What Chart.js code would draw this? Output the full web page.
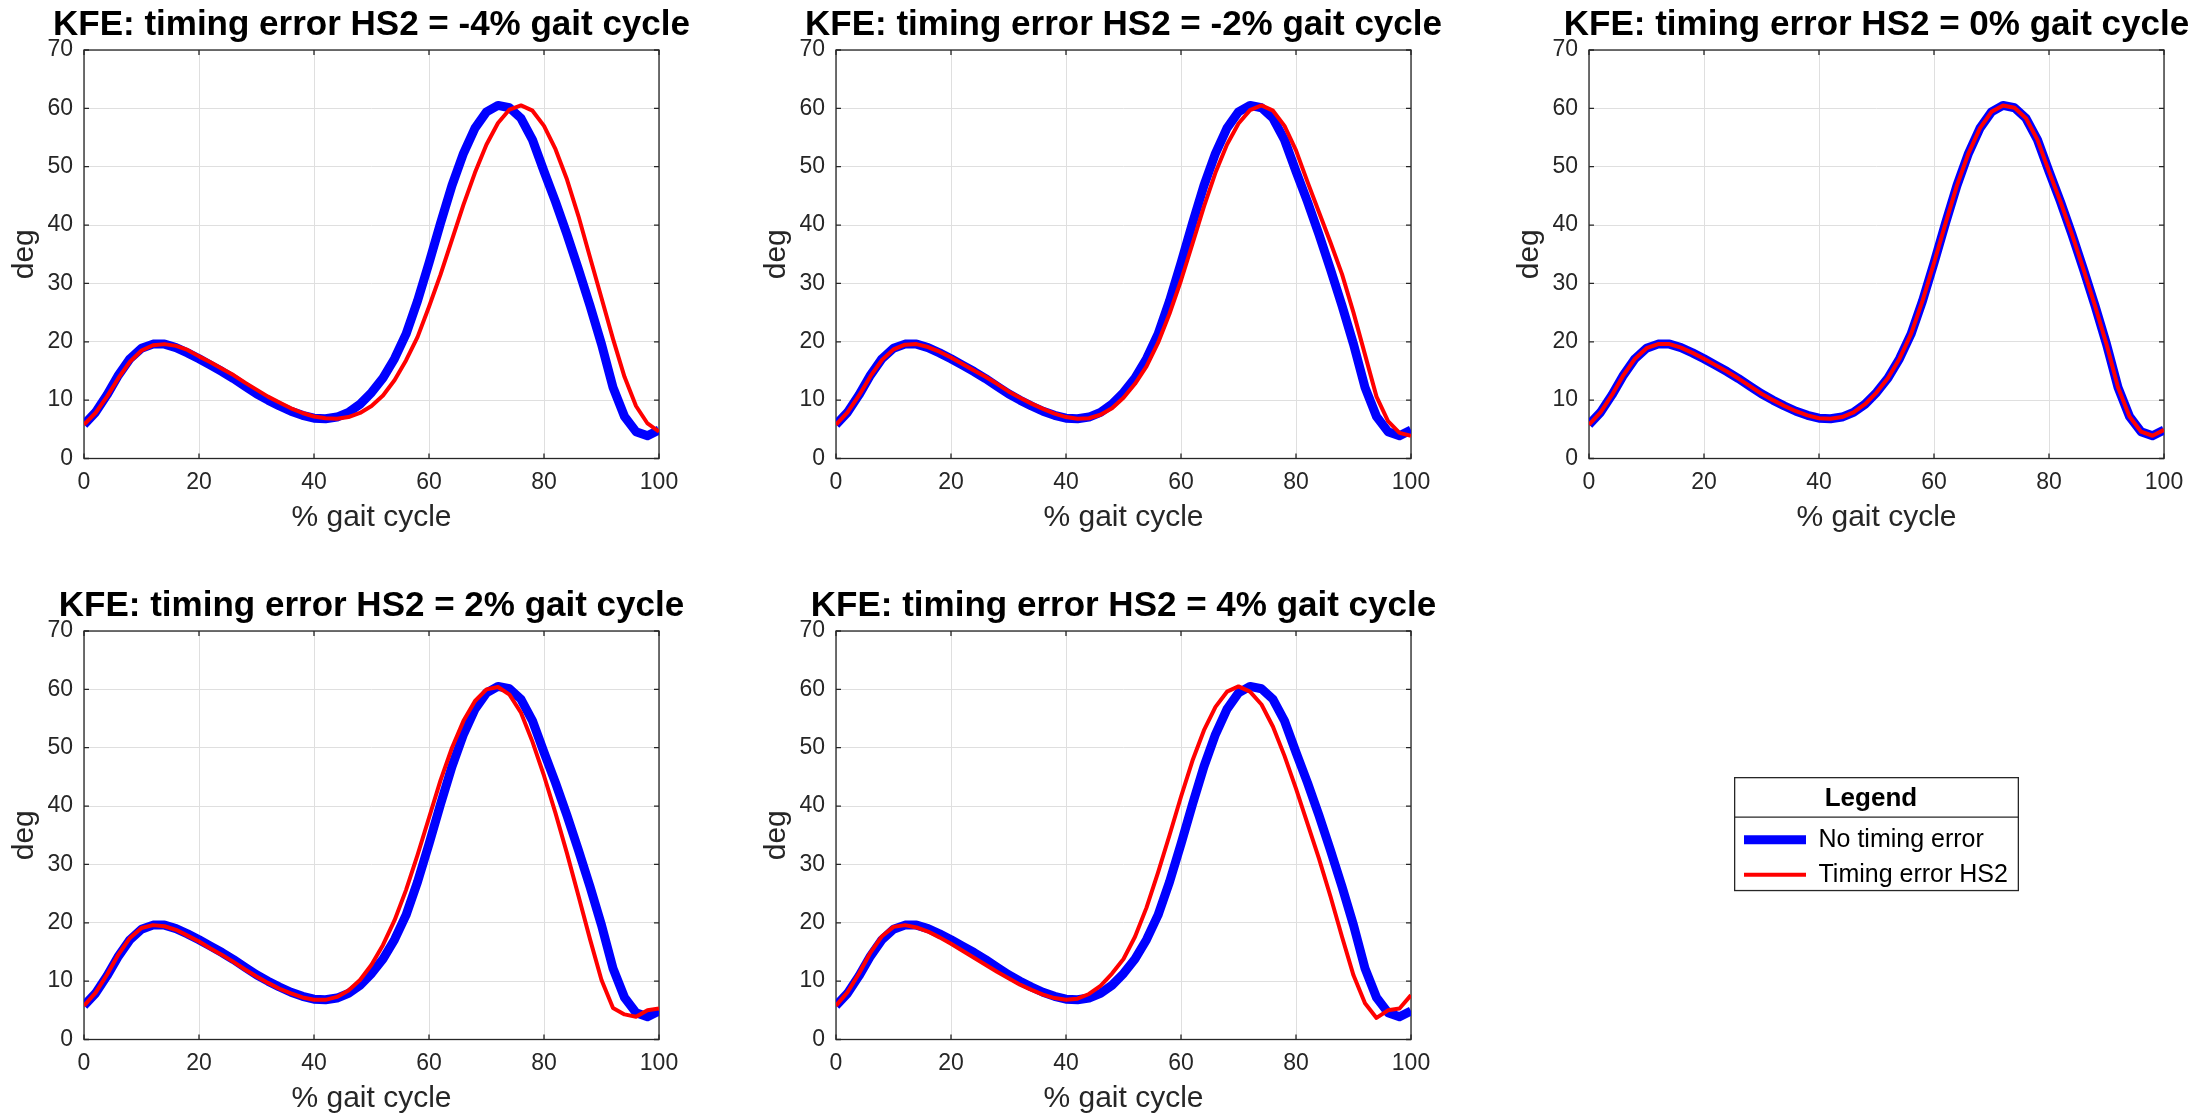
<!DOCTYPE html>
<html>
<head>
<meta charset="utf-8">
<title>KFE: timing error HS2</title>
<script src="https://cdn.jsdelivr.net/npm/chart.js@4.4.1/dist/chart.umd.min.js"></script>
<style>
    html, body { margin: 0; padding: 0; background: #fff; overflow: hidden; }
    #figure { position: relative; width: 2197px; height: 1118px; overflow: hidden; }
    #figure canvas { position: absolute; }
</style>
</head>
<body>
<div id="figure">
    <canvas id="kfe_m4" width="743" height="537" style="left:0px;top:0px"></canvas>
    <canvas id="kfe_m2" width="743" height="537" style="left:752px;top:0px"></canvas>
    <canvas id="kfe_0" width="743" height="537" style="left:1505px;top:0px"></canvas>
    <canvas id="kfe_p2" width="743" height="537" style="left:0px;top:581px"></canvas>
    <canvas id="kfe_p4" width="743" height="537" style="left:752px;top:581px"></canvas>
    <canvas id="kfe_legend" width="285" height="250" style="left:1734px;top:777px"></canvas>
</div>
<script>
// Knee flexion/extension angle (deg), sampled every 2% of the gait cycle
var gaitCycle = [0, 2, 4, 6, 8, 10, 12, 14, 16, 18, 20, 22, 24, 26, 28, 30, 32, 34, 36, 38, 40,
    42, 44, 46, 48, 50, 52, 54, 56, 58, 60, 62, 64, 66, 68, 70, 72, 74, 76, 78, 80,
    82, 84, 86, 88, 90, 92, 94, 96, 98, 100];

var kfeNoError = [5.8, 7.9, 10.9, 14.3, 17.1, 18.9, 19.6, 19.6, 19.0, 18.1, 17.1,
    16.0, 14.9, 13.7, 12.4, 11.1, 10.0, 9.0, 8.1, 7.4, 6.9,
    6.8, 7.1, 7.9, 9.3, 11.3, 13.8, 17.1, 21.3, 27.0, 33.5,
    40.3, 46.8, 52.3, 56.6, 59.4, 60.5, 60.1, 58.3, 54.6, 49.2,
    44.0, 38.4, 32.4, 26.2, 19.6, 12.2, 7.2, 4.6, 3.9, 4.9];

var kfeErrM4 = [5.8, 7.8, 10.6, 13.8, 16.6, 18.5, 19.4, 19.6, 19.3, 18.6, 17.5,
    16.5, 15.4, 14.3, 13.0, 11.8, 10.6, 9.6, 8.6, 7.8, 7.2,
    6.9, 6.8, 7.1, 7.8, 9.0, 10.8, 13.4, 16.8, 20.8, 26.0,
    31.5, 37.5, 43.5, 49.0, 53.8, 57.5, 59.8, 60.5, 59.6, 57.0,
    53.0, 47.8, 41.5, 34.5, 27.5, 20.5, 14.0, 9.0, 6.0, 4.6];

var kfeErrM2 = [5.8, 7.9, 10.8, 14.1, 16.9, 18.7, 19.5, 19.6, 19.1, 18.3, 17.3,
    16.2, 15.1, 14.0, 12.8, 11.5, 10.4, 9.4, 8.5, 7.7, 7.1,
    6.8, 6.9, 7.5, 8.6, 10.4, 12.8, 15.8, 19.8, 24.8, 30.5,
    36.8, 43.2, 49.0, 53.8, 57.4, 59.7, 60.5, 59.6, 57.0, 52.8,
    47.4, 42.2, 37.0, 31.6, 25.0, 17.8, 10.6, 6.4, 4.4, 3.9];

var kfeErr0 = [5.8, 7.9, 10.9, 14.3, 17.1, 18.9, 19.6, 19.6, 19.0, 18.1, 17.1,
    16.0, 14.9, 13.7, 12.4, 11.1, 10.0, 9.0, 8.1, 7.4, 6.9,
    6.8, 7.1, 7.9, 9.3, 11.3, 13.8, 17.1, 21.3, 27.0, 33.5,
    40.3, 46.8, 52.3, 56.6, 59.4, 60.5, 60.1, 58.3, 54.6, 49.2,
    44.0, 38.4, 32.4, 26.2, 19.6, 12.2, 7.2, 4.6, 3.9, 4.9];

var kfeErrP2 = [5.8, 8.0, 11.1, 14.6, 17.4, 19.1, 19.6, 19.4, 18.8, 17.8, 16.8,
    15.6, 14.5, 13.3, 12.0, 10.8, 9.7, 8.7, 7.9, 7.2, 6.8,
    6.8, 7.3, 8.4, 10.2, 12.8, 16.2, 20.4, 25.6, 31.6, 38.0,
    44.4, 50.0, 54.6, 58.0, 60.0, 60.4, 59.1, 56.0, 51.0, 45.2,
    38.8, 31.9, 24.6, 17.2, 10.2, 5.4, 4.3, 3.9, 5.0, 5.3];

var kfeErrP4 = [5.8, 8.1, 11.3, 14.9, 17.7, 19.3, 19.6, 19.2, 18.5, 17.5, 16.4,
    15.2, 14.0, 12.8, 11.6, 10.5, 9.4, 8.5, 7.7, 7.1, 6.8,
    7.0, 7.8, 9.2, 11.3, 13.8, 17.6, 22.6, 28.6, 35.0, 41.6,
    47.8, 53.0, 57.0, 59.6, 60.5, 59.6, 57.4, 53.6, 48.6, 43.0,
    37.0, 31.0, 24.5, 17.6, 11.0, 6.2, 3.7, 5.0, 5.3, 7.6];

var xTicks = [0, 20, 40, 60, 80, 100];
var yTicks = [0, 10, 20, 30, 40, 50, 60, 70];

var panelTitles = [
    'KFE: timing error HS2 = -4% gait cycle',
    'KFE: timing error HS2 = -2% gait cycle',
    'KFE: timing error HS2 = 0% gait cycle',
    'KFE: timing error HS2 = 2% gait cycle',
    'KFE: timing error HS2 = 4% gait cycle'
];
var legendLabels = ['No timing error', 'Timing error HS2'];

(function () {
    var FONT = "'Liberation Sans', Arial, Helvetica, sans-serif";
    var AXIS_COLOR = '#262626';
    var GRID_COLOR = '#dfdfdf';
    var BLUE = '#0000ff';
    var RED = '#ff0000';
    var TICK_LEN = 5;
    // width of the y axis; an empty axis of the same width on the right keeps the title centred over the plot
    var SIDE = 84;

    /**
     * Box round the plot area plus the inward tick marks on all four sides
     */
    var axesFrame = {
        id: 'axesFrame',
        beforeDatasetsDraw: function (chart) {
            var ctx = chart.ctx;
            var a = chart.chartArea;
            var xs = chart.scales.x;
            var ys = chart.scales.y;
            ctx.save();
            ctx.strokeStyle = AXIS_COLOR;
            ctx.lineWidth = 1.3;
            ctx.strokeRect(a.left, a.top, a.right - a.left, a.bottom - a.top);
            ctx.beginPath();
            xs.ticks.forEach(function (t) {
                var px = xs.getPixelForValue(t.value);
                ctx.moveTo(px, a.bottom);
                ctx.lineTo(px, a.bottom - TICK_LEN);
                ctx.moveTo(px, a.top);
                ctx.lineTo(px, a.top + TICK_LEN);
            });
            ys.ticks.forEach(function (t) {
                var py = ys.getPixelForValue(t.value);
                ctx.moveTo(a.left, py);
                ctx.lineTo(a.left + TICK_LEN, py);
                ctx.moveTo(a.right, py);
                ctx.lineTo(a.right - TICK_LEN, py);
            });
            ctx.stroke();
            ctx.restore();
        }
    };

    /**
     * Border and title divider of the stand-alone legend
     */
    var legendFrame = {
        id: 'legendFrame',
        afterDraw: function (chart) {
            var ctx = chart.ctx;
            var lg = chart.legend;
            var boxes = lg.legendHitBoxes;
            var last = boxes[boxes.length - 1];
            var bottom = last.top + last.height + 4;
            var divY = lg.top + lg._computeTitleHeight();
            ctx.save();
            ctx.strokeStyle = AXIS_COLOR;
            ctx.lineWidth = 1.3;
            ctx.strokeRect(lg.left + 0.65, lg.top + 0.65, lg.width - 1.3, bottom - lg.top - 1.3);
            ctx.beginPath();
            ctx.moveTo(lg.left, divY);
            ctx.lineTo(lg.right, divY);
            ctx.stroke();
            ctx.restore();
        }
    };

    function toPoints(series) {
        return gaitCycle.map(function (x, i) {
            return { x: x, y: series[i] };
        });
    }

    function fixedTicks(values) {
        return function (scale) {
            scale.ticks = values.map(function (v) { return { value: v }; });
        };
    }

    function makePanel(canvasId, title, errSeries) {
        return new Chart(document.getElementById(canvasId), {
            type: 'line',
            data: {
                datasets: [{
                    label: legendLabels[0],
                    data: toPoints(kfeNoError),
                    borderColor: BLUE,
                    borderWidth: 9,
                    borderJoinStyle: 'round',
                    order: 2
                }, {
                    label: legendLabels[1],
                    data: toPoints(errSeries),
                    borderColor: RED,
                    borderWidth: 4,
                    borderJoinStyle: 'round',
                    order: 1
                }]
            },
            options: {
                responsive: false,
                animation: false,
                events: [],
                layout: { padding: { left: 0, right: 0, top: 0, bottom: 0.5 } },
                elements: { point: { radius: 0 }, line: { tension: 0 } },
                scales: {
                    x: {
                        type: 'linear',
                        min: xTicks[0],
                        max: xTicks[xTicks.length - 1],
                        afterBuildTicks: fixedTicks(xTicks),
                        afterFit: function (s) { s.height = 78; },
                        grid: { color: GRID_COLOR, drawTicks: false },
                        border: { display: false },
                        ticks: {
                            autoSkip: false, maxRotation: 0, padding: 10.7,
                            color: AXIS_COLOR, font: { family: FONT, size: 23 }
                        },
                        title: {
                            display: true, text: '% gait cycle', color: AXIS_COLOR,
                            font: { family: FONT, size: 30 }, padding: { top: 0, bottom: 0.5 }
                        }
                    },
                    y: {
                        min: yTicks[0],
                        max: yTicks[yTicks.length - 1],
                        afterBuildTicks: fixedTicks(yTicks),
                        afterFit: function (s) { s.width = SIDE; },
                        grid: { color: GRID_COLOR, drawTicks: false },
                        border: { display: false },
                        ticks: {
                            autoSkip: false, padding: 11,
                            color: AXIS_COLOR, font: { family: FONT, size: 23 }
                        },
                        title: {
                            display: true, text: 'deg', color: AXIS_COLOR,
                            font: { family: FONT, size: 30 }, padding: { top: 7, bottom: 0 }
                        }
                    },
                    yMirror: {
                        axis: 'y',
                        position: 'right',
                        min: yTicks[0],
                        max: yTicks[yTicks.length - 1],
                        afterFit: function (s) { s.width = SIDE; },
                        grid: { display: false },
                        border: { display: false },
                        ticks: { display: false }
                    }
                },
                plugins: {
                    legend: { display: false },
                    tooltip: { enabled: false },
                    title: {
                        display: true, text: title, color: '#000',
                        font: { family: FONT, size: 35, weight: 'bold' },
                        padding: { top: 4, bottom: 4 }
                    }
                }
            },
            plugins: [axesFrame]
        });
    }

    function makeLegend(canvasId) {
        return new Chart(document.getElementById(canvasId), {
            type: 'line',
            data: {
                datasets: [{
                    label: legendLabels[0], data: [],
                    borderColor: BLUE, borderWidth: 9,
                    pointBorderColor: BLUE, pointBorderWidth: 9
                }, {
                    label: legendLabels[1], data: [],
                    borderColor: RED, borderWidth: 4,
                    pointBorderColor: RED, pointBorderWidth: 4
                }]
            },
            options: {
                responsive: false,
                animation: false,
                events: [],
                layout: { padding: 0 },
                scales: { x: { display: false }, y: { display: false } },
                plugins: {
                    tooltip: { enabled: false },
                    legend: {
                        position: 'top',
                        align: 'start',
                        title: {
                            display: true, text: 'Legend', color: '#000',
                            font: { family: FONT, size: 26, weight: 'bold' },
                            padding: { top: 9, bottom: 0 }
                        },
                        labels: {
                            usePointStyle: true, pointStyle: 'line', pointStyleWidth: 62,
                            padding: 10, color: '#000', font: { family: FONT, size: 25 }
                        }
                    }
                }
            },
            plugins: [legendFrame]
        });
    }

    makePanel('kfe_m4', panelTitles[0], kfeErrM4);
    makePanel('kfe_m2', panelTitles[1], kfeErrM2);
    makePanel('kfe_0', panelTitles[2], kfeErr0);
    makePanel('kfe_p2', panelTitles[3], kfeErrP2);
    makePanel('kfe_p4', panelTitles[4], kfeErrP4);
    makeLegend('kfe_legend');
})();
</script>
</body>
</html>
